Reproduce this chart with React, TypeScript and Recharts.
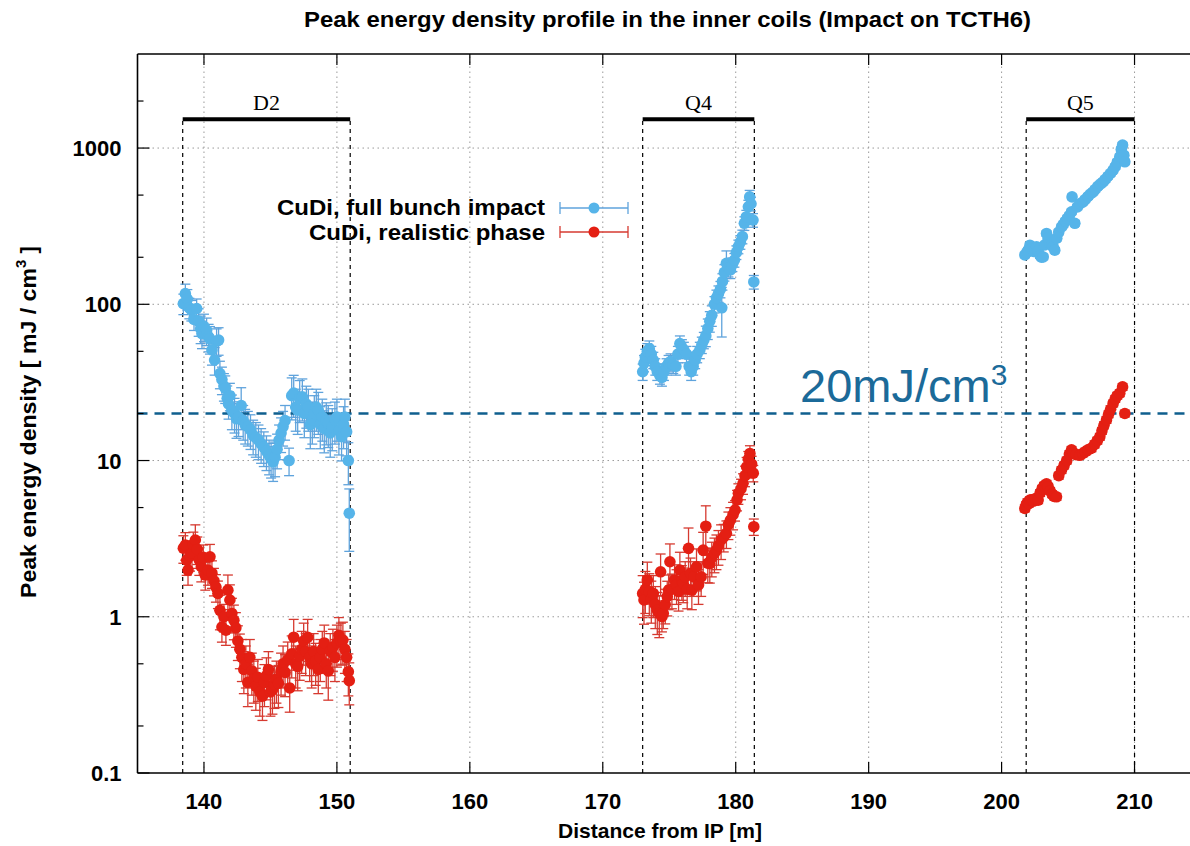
import React from 'react';
import { ComposedChart, Scatter, XAxis, YAxis, ErrorBar, ReferenceLine } from 'recharts';

type Pt = [number, number, number]; // [distance m, energy density mJ/cm3, relative error]

const blueD2: Pt[] = [
  [138.45, 101, 0.15], [138.6, 117, 0.15], [138.75, 108, 0.15], [138.9, 95, 0.15], [139.05, 92, 0.15],
  [139.25, 80, 0.15], [139.45, 94, 0.15], [139.6, 78, 0.2], [139.75, 70, 0.2], [139.85, 65, 0.2],
  [140.0, 72, 0.2], [140.2, 68, 0.2], [140.35, 62, 0.2], [140.45, 60, 0.2], [140.6, 51, 0.2],
  [140.8, 44, 0.2], [140.95, 58, 0.2], [141.1, 59, 0.2], [141.2, 36, 0.2], [141.35, 33, 0.2],
  [141.5, 30, 0.2], [141.6, 29, 0.2], [141.75, 25, 0.2], [141.85, 23, 0.2], [141.95, 26, 0.2],
  [142.1, 21, 0.25], [142.3, 20, 0.25], [142.45, 18.5, 0.25], [142.6, 19, 0.25], [142.8, 22.5, 0.3],
  [142.95, 18, 0.25], [143.1, 17, 0.25], [143.3, 16.5, 0.25], [143.5, 15.7, 0.25], [143.7, 14.5, 0.25],
  [143.9, 14, 0.25], [144.1, 13.5, 0.25], [144.3, 12.8, 0.25], [144.5, 12.2, 0.25], [144.7, 11.5, 0.25],
  [144.9, 10.8, 0.25], [145.05, 10.3, 0.25], [145.2, 9.8, 0.25], [145.35, 10.5, 0.25], [145.5, 11.8, 0.25],
  [145.65, 13.5, 0.25], [145.8, 15, 0.25], [145.95, 16.5, 0.25], [146.1, 18, 0.25], [146.4, 10, 0.2],
  [146.6, 26, 0.3], [146.75, 27, 0.3], [146.9, 22, 0.3], [147.05, 21, 0.3], [147.2, 25, 0.3],
  [147.4, 25.6, 0.3], [147.55, 20, 0.3], [147.7, 23, 0.3], [147.85, 22, 0.3], [148.0, 17, 0.3],
  [148.15, 18.2, 0.3], [148.3, 20, 0.3], [148.45, 22, 0.3], [148.6, 21, 0.3], [148.75, 17, 0.3],
  [148.9, 19, 0.3], [149.05, 16, 0.3], [149.2, 18, 0.3], [149.35, 17.3, 0.3], [149.5, 15, 0.3],
  [149.65, 16.5, 0.3], [149.85, 18.2, 0.3], [150.0, 19, 0.3], [150.15, 15.5, 0.3], [150.35, 14.2, 0.3],
  [150.5, 17, 0.3], [150.6, 19, 0.3], [150.73, 15.3, 0.3], [150.86, 10, 0.3], [150.93, 4.6, 0.43],
];

const blueQ4: Pt[] = [
  [173.0, 37, 0.12], [173.1, 42, 0.12], [173.2, 46, 0.12], [173.35, 50, 0.12], [173.5, 52, 0.12],
  [173.65, 48, 0.12], [173.8, 44, 0.12], [173.95, 40, 0.12], [174.1, 37, 0.12], [174.3, 35, 0.12],
  [174.45, 34, 0.12], [174.6, 37, 0.12], [174.8, 40, 0.12], [174.95, 42, 0.12], [175.1, 43, 0.12],
  [175.3, 41, 0.12], [175.5, 40, 0.12], [175.65, 48, 0.12], [175.8, 56, 0.12], [175.95, 53, 0.12],
  [176.1, 51, 0.12], [176.3, 48, 0.12], [176.5, 40, 0.12], [176.65, 37, 0.12], [176.8, 40, 0.12],
  [176.95, 44, 0.12], [177.1, 48, 0.12], [177.3, 51, 0.12], [177.45, 55, 0.12], [177.6, 59, 0.12],
  [177.75, 63, 0.15], [177.9, 70, 0.15], [178.05, 78, 0.15], [178.2, 85, 0.15], [178.4, 100, 0.12],
  [178.55, 110, 0.12], [178.7, 117, 0.12], [178.85, 125, 0.12], [178.95, 95, 0.35], [179.0, 140, 0.12],
  [179.15, 160, 0.12], [179.3, 183, 0.2], [179.45, 170, 0.12], [179.6, 166, 0.12], [179.75, 180, 0.1],
  [179.9, 192, 0.1], [180.05, 215, 0.1], [180.2, 234, 0.1], [180.35, 250, 0.1], [180.5, 271, 0.1],
  [180.65, 330, 0.1], [180.8, 363, 0.1], [180.95, 421, 0.1], [181.05, 487, 0.1], [181.15, 440, 0.1],
  [181.3, 346, 0.1], [181.36, 139, 0.1],
];

const blueQ5: Pt[] = [
  [201.75, 207, 0.04], [201.9, 215, 0.04], [202.0, 222, 0.04], [202.13, 239, 0.04], [202.25, 226, 0.04],
  [202.4, 218, 0.04], [202.5, 226, 0.04], [202.63, 233, 0.04], [202.75, 220, 0.04], [202.9, 205, 0.04],
  [203.0, 200, 0.04], [203.13, 201, 0.04], [203.25, 240, 0.04], [203.38, 284, 0.04], [203.5, 265, 0.04],
  [203.65, 245, 0.04], [203.8, 240, 0.04], [203.88, 233, 0.04], [204.0, 222, 0.04], [204.15, 265, 0.04],
  [204.3, 290, 0.04], [204.51, 313, 0.04], [204.65, 325, 0.04], [204.8, 340, 0.04], [204.95, 355, 0.04],
  [205.1, 370, 0.04], [205.26, 391, 0.04], [205.3, 487, 0.04], [205.51, 330, 0.04], [205.7, 420, 0.04],
  [205.9, 440, 0.04], [206.13, 453, 0.04], [206.3, 470, 0.04], [206.5, 490, 0.04], [206.7, 510, 0.04],
  [206.89, 525, 0.04], [207.05, 545, 0.04], [207.25, 570, 0.04], [207.45, 590, 0.04], [207.64, 608, 0.04],
  [207.8, 630, 0.04], [208.0, 660, 0.04], [208.2, 690, 0.04], [208.39, 723, 0.04], [208.55, 760, 0.04],
  [208.7, 810, 0.04], [208.89, 880, 0.04], [209.0, 980, 0.04], [209.1, 1045, 0.04], [209.2, 900, 0.04],
  [209.27, 817, 0.04],
];

const redD2: Pt[] = [
  [138.45, 2.75, 0.2], [138.6, 2.88, 0.2], [138.7, 2.3, 0.2], [138.8, 1.99, 0.2], [138.95, 2.45, 0.2],
  [139.1, 2.55, 0.2], [139.2, 2.9, 0.2], [139.35, 3.1, 0.25], [139.5, 2.7, 0.2], [139.65, 2.3, 0.2],
  [139.8, 2.09, 0.2], [139.95, 2.4, 0.2], [140.1, 1.85, 0.2], [140.3, 1.99, 0.2], [140.45, 2.42, 0.2],
  [140.6, 1.9, 0.2], [140.75, 1.7, 0.2], [140.9, 1.55, 0.2], [141.05, 1.41, 0.2], [141.2, 1.1, 0.25],
  [141.35, 0.86, 0.2], [141.5, 1.0, 0.2], [141.65, 0.82, 0.2], [141.8, 1.48, 0.25], [141.95, 1.28, 0.25],
  [142.1, 1.05, 0.25], [142.25, 0.95, 0.25], [142.4, 0.85, 0.25], [142.55, 0.7, 0.25], [142.7, 0.62, 0.25],
  [142.85, 0.55, 0.3], [143.0, 0.46, 0.3], [143.15, 0.5, 0.3], [143.3, 0.38, 0.3], [143.45, 0.55, 0.3],
  [143.6, 0.45, 0.3], [143.75, 0.4, 0.3], [143.9, 0.36, 0.3], [144.05, 0.41, 0.3], [144.2, 0.33, 0.3],
  [144.4, 0.31, 0.3], [144.55, 0.38, 0.3], [144.7, 0.42, 0.3], [144.85, 0.46, 0.3], [145.0, 0.33, 0.3],
  [145.15, 0.34, 0.3], [145.3, 0.37, 0.3], [145.45, 0.4, 0.3], [145.6, 0.375, 0.3], [145.8, 0.45, 0.3],
  [145.95, 0.5, 0.3], [146.1, 0.44, 0.3], [146.3, 0.53, 0.3], [146.45, 0.35, 0.3], [146.6, 0.58, 0.3],
  [146.75, 0.74, 0.3], [146.9, 0.5, 0.3], [147.05, 0.48, 0.3], [147.2, 0.56, 0.3], [147.35, 0.62, 0.3],
  [147.5, 0.7, 0.3], [147.65, 0.6, 0.3], [147.8, 0.74, 0.3], [147.95, 0.55, 0.3], [148.1, 0.5, 0.3],
  [148.25, 0.6, 0.3], [148.4, 0.52, 0.3], [148.6, 0.46, 0.3], [148.75, 0.55, 0.3], [148.9, 0.62, 0.3],
  [149.05, 0.68, 0.3], [149.2, 0.5, 0.3], [149.35, 0.45, 0.35], [149.5, 0.6, 0.3], [149.7, 0.64, 0.3],
  [149.85, 0.55, 0.3], [150.0, 0.68, 0.3], [150.15, 0.76, 0.3], [150.3, 0.7, 0.3], [150.45, 0.71, 0.3],
  [150.6, 0.62, 0.3], [150.73, 0.55, 0.3], [150.86, 0.445, 0.3], [150.93, 0.39, 0.3],
];

const redQ4: Pt[] = [
  [173.0, 1.41, 0.3], [173.1, 1.28, 0.3], [173.2, 1.5, 0.3], [173.35, 1.72, 0.3], [173.5, 1.45, 0.3],
  [173.65, 1.3, 0.3], [173.8, 1.41, 0.3], [173.95, 1.2, 0.3], [174.1, 1.1, 0.3], [174.25, 1.05, 0.3],
  [174.35, 1.94, 0.3], [174.45, 1.0, 0.2], [174.55, 1.05, 0.2], [174.7, 1.2, 0.25], [174.85, 1.35, 0.25],
  [174.95, 1.48, 0.25], [175.05, 2.25, 0.3], [175.2, 1.5, 0.25], [175.4, 1.72, 0.25], [175.55, 1.6, 0.25],
  [175.7, 1.45, 0.25], [175.8, 1.99, 0.3], [175.95, 1.7, 0.25], [176.05, 1.64, 0.25], [176.2, 1.8, 0.25],
  [176.35, 1.5, 0.25], [176.45, 2.74, 0.35], [176.6, 1.9, 0.25], [176.7, 1.48, 0.25], [176.85, 1.8, 0.25],
  [177.05, 2.09, 0.3], [177.2, 1.6, 0.25], [177.4, 1.8, 0.25], [177.55, 2.67, 0.3], [177.75, 3.8, 0.35],
  [177.9, 2.2, 0.25], [178.05, 2.19, 0.25], [178.2, 2.4, 0.25], [178.4, 2.55, 0.25], [178.55, 2.67, 0.25],
  [178.7, 2.85, 0.25], [178.9, 3.1, 0.25], [179.1, 3.25, 0.2], [179.3, 3.42, 0.2], [179.45, 3.9, 0.2],
  [179.6, 4.16, 0.2], [179.8, 4.5, 0.2], [179.95, 4.82, 0.15], [180.1, 5.6, 0.15], [180.2, 6.17, 0.15],
  [180.4, 6.6, 0.15], [180.55, 7.15, 0.15], [180.7, 8.0, 0.15], [180.82, 9.1, 0.15], [180.95, 10.2, 0.12],
  [181.07, 11.1, 0.12], [181.2, 9.5, 0.12], [181.32, 8.3, 0.12], [181.36, 3.77, 0.12],
];

const redQ5: Pt[] = [
  [201.75, 4.94, 0.05], [201.85, 5.2, 0.05], [201.95, 5.4, 0.05], [202.05, 5.3, 0.05], [202.13, 5.58, 0.05],
  [202.25, 5.6, 0.05], [202.4, 5.5, 0.05], [202.55, 5.7, 0.05], [202.75, 5.58, 0.05], [202.9, 6.2, 0.05],
  [203.05, 6.6, 0.05], [203.2, 6.9, 0.05], [203.38, 7.1, 0.05], [203.5, 6.8, 0.05], [203.65, 6.4, 0.05],
  [203.8, 6.1, 0.05], [203.95, 5.9, 0.05], [204.13, 5.86, 0.05], [204.3, 8.0, 0.05], [204.51, 8.7, 0.05],
  [204.7, 9.3, 0.05], [204.9, 10.0, 0.05], [205.1, 11.0, 0.05], [205.26, 11.7, 0.05], [205.4, 11.2, 0.05],
  [205.6, 10.9, 0.05], [205.88, 10.8, 0.05], [206.1, 11.1, 0.05], [206.3, 11.4, 0.05], [206.5, 11.7, 0.05],
  [206.76, 12.0, 0.05], [207.0, 12.7, 0.05], [207.2, 13.4, 0.05], [207.39, 14.2, 0.05], [207.55, 15.5, 0.05],
  [207.7, 16.8, 0.05], [207.89, 18.2, 0.05], [208.05, 19.8, 0.05], [208.2, 21.3, 0.05], [208.39, 23.2, 0.05],
  [208.55, 24.8, 0.05], [208.7, 26.0, 0.05], [208.89, 27, 0.05], [209.1, 29.6, 0.05], [209.27, 20, 0.05],
];

const xTicks = [140, 150, 160, 170, 180, 190, 200, 210];
const yMajorTicks = [0.1, 1, 10, 100, 1000];
const yMinorTicks = [0.2, 0.5, 0.8, 2, 5, 8, 20, 50, 80, 200, 500, 800, 2000];
const yTickLabels = ['0.1', '1', '10', '100', '1000'];

const magnets = [
  { name: 'D2', start: 138.4, end: 151.0 },
  { name: 'Q4', start: 173.0, end: 181.4 },
  { name: 'Q5', start: 201.85, end: 210.0 },
];
const MAGNET_LEVEL = 1530;
const THRESHOLD = 20;

const seriesNames = ['CuDi, full bunch impact', 'CuDi, realistic phase'];
const titleText = 'Peak energy density profile in the inner coils (Impact on TCTH6)';

const BLUE = '#56b4e9';
const BLUE_ERR = '#5fa3dc';
const RED = '#e41f13';
const RED_ERR = '#d63a30';
const THRESH_COLOR = '#0f5f8e';

const CHART_W = 1202;
const CHART_H = 846;
const PLOT_LEFT = 137.5;
const PLOT_TOP = 54;
const PLOT_BOTTOM = 773;
const SANS = '"Liberation Sans", Arial, Helvetica, sans-serif';
const SERIF = '"Liberation Serif", "Times New Roman", serif';

const toRows = (pts: Pt[]) => pts.map(([x, y, f]) => ({ x, y, err: y * f }));
const blueData = toRows([...blueD2, ...blueQ4, ...blueQ5]);
const redData = toRows([...redD2, ...redQ4, ...redQ5]);

const isMajor = (v: number) => yMajorTicks.includes(v);

const YTick = (props: any) => {
  const { y, payload } = props;
  const v = payload.value;
  const major = isMajor(v);
  const idx = yMajorTicks.indexOf(v);
  return (
    <g>
      <line x1={PLOT_LEFT} x2={PLOT_LEFT + (major ? 12 : 6)} y1={y} y2={y} stroke="#000" strokeWidth={1.2} />
      {major && (
        <text x={PLOT_LEFT - 16} y={y + 8} textAnchor="end" fontFamily={SANS} fontWeight="bold" fontSize={22} fill="#000">
          {yTickLabels[idx]}
        </text>
      )}
    </g>
  );
};

const XTick = (props: any) => {
  const { x, payload } = props;
  return (
    <g>
      <line x1={x} x2={x} y1={PLOT_BOTTOM} y2={PLOT_BOTTOM - 11} stroke="#000" strokeWidth={1.2} />
      <text x={x} y={PLOT_BOTTOM + 36} textAnchor="middle" fontFamily={SANS} fontWeight="bold" fontSize={22} fill="#000">
        {payload.value}
      </text>
    </g>
  );
};

const TopTick = (props: any) => {
  const { x } = props;
  return <line x1={x} x2={x} y1={PLOT_TOP} y2={PLOT_TOP + 11} stroke="#000" strokeWidth={1.2} />;
};

const MagnetLabel = (props: any) => {
  const { viewBox, name } = props;
  if (!viewBox) return null;
  return (
    <text x={viewBox.x + viewBox.width / 2} y={viewBox.y - 9} textAnchor="middle" fontFamily={SERIF} fontSize={22} fill="#000">
      {name}
    </text>
  );
};

const dot = (color: string) => (p: any) => <circle cx={p.cx} cy={p.cy} r={5.8} fill={color} />;

export default function App() {
  return (
    <div style={{ position: 'absolute', left: 0, top: 0, width: 1190, height: 846, overflow: 'hidden', background: '#fff' }}>
      <ComposedChart width={CHART_W} height={CHART_H} margin={{ top: 44, right: 1, bottom: 33, left: 77.5 }}>
        <XAxis
          xAxisId={0}
          type="number"
          dataKey="x"
          domain={[135, 215]}
          allowDataOverflow
          ticks={xTicks}
          height={40}
          tick={<XTick />}
          tickLine={false}
          axisLine={{ stroke: '#000', strokeWidth: 1.6 }}
        />
        <XAxis
          xAxisId="top"
          orientation="top"
          type="number"
          dataKey="x"
          domain={[135, 215]}
          allowDataOverflow
          ticks={xTicks}
          height={10}
          tick={<TopTick />}
          tickLine={false}
          axisLine={{ stroke: '#000', strokeWidth: 1.6 }}
        />
        <YAxis
          type="number"
          dataKey="y"
          scale="log"
          domain={[0.1, 4000]}
          allowDataOverflow
          ticks={[...yMajorTicks, ...yMinorTicks].sort((a, b) => a - b)}
          width={60}
          tick={<YTick />}
          tickLine={false}
          axisLine={{ stroke: '#000', strokeWidth: 1.6 }}
        />
        {xTicks.map((t) => (
          <ReferenceLine key={`gx${t}`} x={t} stroke="#9a9a9a" strokeWidth={1} strokeDasharray="1.5 3.5" />
        ))}
        {yMajorTicks.slice(1).map((t) => (
          <ReferenceLine key={`gy${t}`} y={t} stroke="#9a9a9a" strokeWidth={1} strokeDasharray="1.5 3.5" />
        ))}
        {magnets.map((m) => (
          <ReferenceLine
            key={`ms${m.name}`}
            segment={[{ x: m.start, y: 0.1 }, { x: m.start, y: MAGNET_LEVEL }]}
            stroke="#000"
            strokeWidth={1.2}
            strokeDasharray="4 4"
          />
        ))}
        {magnets.map((m) => (
          <ReferenceLine
            key={`me${m.name}`}
            segment={[{ x: m.end, y: 0.1 }, { x: m.end, y: MAGNET_LEVEL }]}
            stroke="#000"
            strokeWidth={1.2}
            strokeDasharray="4 4"
          />
        ))}
        {magnets.map((m) => (
          <ReferenceLine
            key={`mb${m.name}`}
            segment={[{ x: m.start, y: MAGNET_LEVEL }, { x: m.end, y: MAGNET_LEVEL }]}
            stroke="#000"
            strokeWidth={4}
            label={<MagnetLabel name={m.name} />}
          />
        ))}
        <Scatter name={seriesNames[0]} data={blueData} dataKey="y" fill={BLUE} shape={dot(BLUE)} isAnimationActive={false}>
          <ErrorBar dataKey="err" direction="y" width={5} stroke={BLUE_ERR} strokeWidth={1.3} />
        </Scatter>
        <Scatter name={seriesNames[1]} data={redData} dataKey="y" fill={RED} shape={dot(RED)} isAnimationActive={false}>
          <ErrorBar dataKey="err" direction="y" width={5} stroke={RED_ERR} strokeWidth={1.3} />
        </Scatter>
        <ReferenceLine y={THRESHOLD} stroke={THRESH_COLOR} strokeWidth={2.5} strokeDasharray="10 7" />
      </ComposedChart>
      <svg width={1190} height={846} style={{ position: 'absolute', left: 0, top: 0, pointerEvents: 'none' }}>
        <text
          x={304}
          y={27}
          fontFamily={SANS}
          fontWeight="bold"
          fontSize={22}
          fill="#000"
          textLength={727}
          lengthAdjust="spacingAndGlyphs"
        >
          {titleText}
        </text>
        <text
          transform="translate(36,598) rotate(-90)"
          fontFamily={SANS}
          fontWeight="bold"
          fontSize={22}
          fill="#000"
        >
          <tspan textLength={330} lengthAdjust="spacingAndGlyphs">Peak energy density [ mJ / cm</tspan>
          <tspan fontSize={15} dy={-10}>3</tspan>
          <tspan dy={10}> ]</tspan>
        </text>
        <text
          x={558}
          y={838}
          fontFamily={SANS}
          fontWeight="bold"
          fontSize={21}
          fill="#000"
          textLength={204}
          lengthAdjust="spacingAndGlyphs"
        >
          Distance from IP [m]
        </text>
        <text x={800} y={402} fontFamily={SANS} fontSize={47} fill="#1b6a99">
          20mJ/cm
          <tspan fontSize={30} dy={-17}>3</tspan>
        </text>
        {/* legend */}
        <text
          x={277}
          y={215}
          fontFamily={SANS}
          fontWeight="bold"
          fontSize={22}
          fill="#000"
          textLength={268}
          lengthAdjust="spacingAndGlyphs"
        >
          {seriesNames[0]}
        </text>
        <line x1={560} x2={628} y1={208} y2={208} stroke={BLUE_ERR} strokeWidth={1.3} />
        <line x1={560} x2={560} y1={202} y2={214} stroke={BLUE_ERR} strokeWidth={1.3} />
        <line x1={628} x2={628} y1={202} y2={214} stroke={BLUE_ERR} strokeWidth={1.3} />
        <circle cx={594} cy={208} r={5.5} fill={BLUE} />
        <text
          x={309}
          y={240}
          fontFamily={SANS}
          fontWeight="bold"
          fontSize={22}
          fill="#000"
          textLength={236}
          lengthAdjust="spacingAndGlyphs"
        >
          {seriesNames[1]}
        </text>
        <line x1={560} x2={628} y1={232} y2={232} stroke={RED_ERR} strokeWidth={1.3} />
        <line x1={560} x2={560} y1={226} y2={238} stroke={RED_ERR} strokeWidth={1.3} />
        <line x1={628} x2={628} y1={226} y2={238} stroke={RED_ERR} strokeWidth={1.3} />
        <circle cx={594} cy={232} r={5.5} fill={RED} />
      </svg>
    </div>
  );
}
